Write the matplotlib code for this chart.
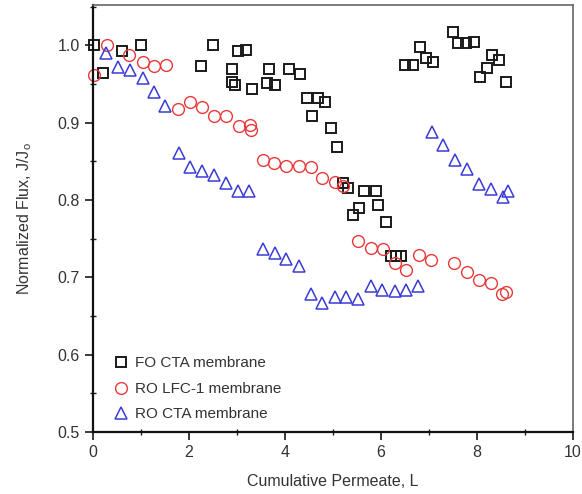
import matplotlib
matplotlib.use("Agg")
import matplotlib.pyplot as plt
from matplotlib.ticker import MultipleLocator

plt.rcParams['font.family'] = ['Liberation Sans', 'DejaVu Sans']
plt.rcParams['mathtext.fontset'] = 'custom'
plt.rcParams['mathtext.rm'] = 'Liberation Sans'

fo_x = [0.02, 0.21, 0.61, 1.01, 2.24, 2.50, 2.89, 2.89, 2.95, 3.03, 3.18, 3.31,
        3.66, 3.63, 3.80, 4.09, 4.32, 4.45, 4.69, 4.84, 4.57, 4.95, 5.08,
        5.21, 5.32, 5.65, 5.89, 5.54, 5.42, 5.93, 6.11, 6.21, 6.31, 6.41,
        6.49, 6.67, 6.81, 6.93, 7.09, 7.49, 7.61, 7.77, 7.93, 8.32, 8.46,
        8.20, 8.06, 8.61]
fo_y = [1.000, 0.964, 0.993, 1.000, 0.973, 1.000, 0.969, 0.953, 0.948, 0.993, 0.994, 0.944,
        0.969, 0.951, 0.948, 0.969, 0.963, 0.932, 0.932, 0.926, 0.909, 0.893, 0.869,
        0.822, 0.816, 0.811, 0.812, 0.790, 0.781, 0.793, 0.772, 0.728, 0.728, 0.728,
        0.974, 0.974, 0.998, 0.984, 0.978, 1.017, 1.003, 1.003, 1.004, 0.987, 0.981,
        0.970, 0.959, 0.953]

lfc_x = [0.03, 0.29, 0.76, 1.04, 1.28, 1.52, 1.77, 2.03, 2.28, 2.52, 2.78, 3.04, 3.28, 3.29,
         3.54, 3.77, 4.03, 4.29, 4.55, 4.77, 5.04, 5.21,
         5.53, 5.79, 6.05, 6.29, 6.53, 6.79, 7.04, 7.52, 7.80, 8.04, 8.29, 8.52, 8.61]
lfc_y = [0.962, 1.000, 0.987, 0.978, 0.973, 0.974, 0.917, 0.927, 0.920, 0.908, 0.908, 0.895, 0.897, 0.891,
         0.851, 0.848, 0.844, 0.844, 0.843, 0.829, 0.823, 0.818,
         0.747, 0.738, 0.736, 0.719, 0.710, 0.729, 0.722, 0.719, 0.707, 0.696, 0.692, 0.679, 0.681]

cta_x = [0.27, 0.52, 0.78, 1.04, 1.28, 1.51, 1.79, 2.03, 2.27, 2.53, 2.78, 3.02, 3.26,
         3.54, 3.79, 4.03, 4.29, 4.54, 4.77, 5.04, 5.28, 5.53, 5.79, 6.03, 6.29, 6.53, 6.78,
         7.06, 7.30, 7.54, 7.79, 8.04, 8.29, 8.55, 8.64]
cta_y = [0.990, 0.972, 0.968, 0.958, 0.940, 0.921, 0.861, 0.843, 0.838, 0.832, 0.822, 0.812, 0.811,
         0.737, 0.732, 0.724, 0.714, 0.678, 0.667, 0.675, 0.675, 0.672, 0.689, 0.684, 0.682, 0.684, 0.689,
         0.888, 0.871, 0.852, 0.840, 0.821, 0.814, 0.804, 0.812]

labels = ['FO CTA membrane', 'RO LFC-1 membrane', 'RO CTA membrane']
x_ticks = [0, 2, 4, 6, 8, 10]
y_ticks = [0.5, 0.6, 0.7, 0.8, 0.9, 1.0]

fig = plt.figure(figsize=(5.82, 4.94), dpi=100)
ax = fig.add_axes([93/582, 1-432/494, (573-93)/582, (432-5)/494])

ax.plot(fo_x, fo_y, ls='none', marker='s', ms=7.5, mfc='none', mec='#1a1a1a', mew=1.4,
        label=labels[0], clip_on=False)
ax.plot(lfc_x, lfc_y, ls='none', marker='o', ms=8.5, mfc='none', mec='#e8393a', mew=1.0,
        label=labels[1], clip_on=False)
ax.plot(cta_x, cta_y, ls='none', marker='^', ms=9, mfc='none', mec='#3b3bd6', mew=1.1,
        label=labels[2], clip_on=False)

ax.set_xlim(0, 10)
ax.set_ylim(0.5, 1.052)
ax.set_xticks(x_ticks)
ax.set_yticks(y_ticks)
ax.set_xticklabels([str(v) for v in x_ticks])
ax.set_yticklabels([f'{v:.1f}' for v in y_ticks])
ax.xaxis.set_minor_locator(MultipleLocator(1))
ax.yaxis.set_minor_locator(MultipleLocator(0.05))
ax.tick_params(which='major', direction='out', length=6, width=1.2, labelsize=11.5,
               labelcolor='#333333', color='#1a1a1a')
ax.tick_params(which='minor', direction='inout', length=5, width=1.0, color='#1a1a1a')
ax.tick_params(axis='x', which='both', top=False)
ax.tick_params(axis='y', which='both', right=False)

for s in ['left', 'bottom']:
    ax.spines[s].set_linewidth(1.6)
    ax.spines[s].set_color('#111111')
for s in ['top', 'right']:
    ax.spines[s].set_linewidth(1.2)
    ax.spines[s].set_color('#666666')

ax.set_xlabel('Cumulative Permeate, L', fontsize=11.5, color='#333333', labelpad=10)
ax.set_ylabel('Normalized Flux, J/J$_\\mathregular{o}$', fontsize=11.5, color='#333333', labelpad=17)

leg = ax.legend(loc='lower left', bbox_to_anchor=(0.02, 0.0), frameon=False, fontsize=11,
                handletextpad=0.4, labelspacing=0.75, handlelength=1.0, borderaxespad=0.3)
for t in leg.get_texts():
    t.set_color('#333333')

fig.savefig('out.png', dpi=100)
